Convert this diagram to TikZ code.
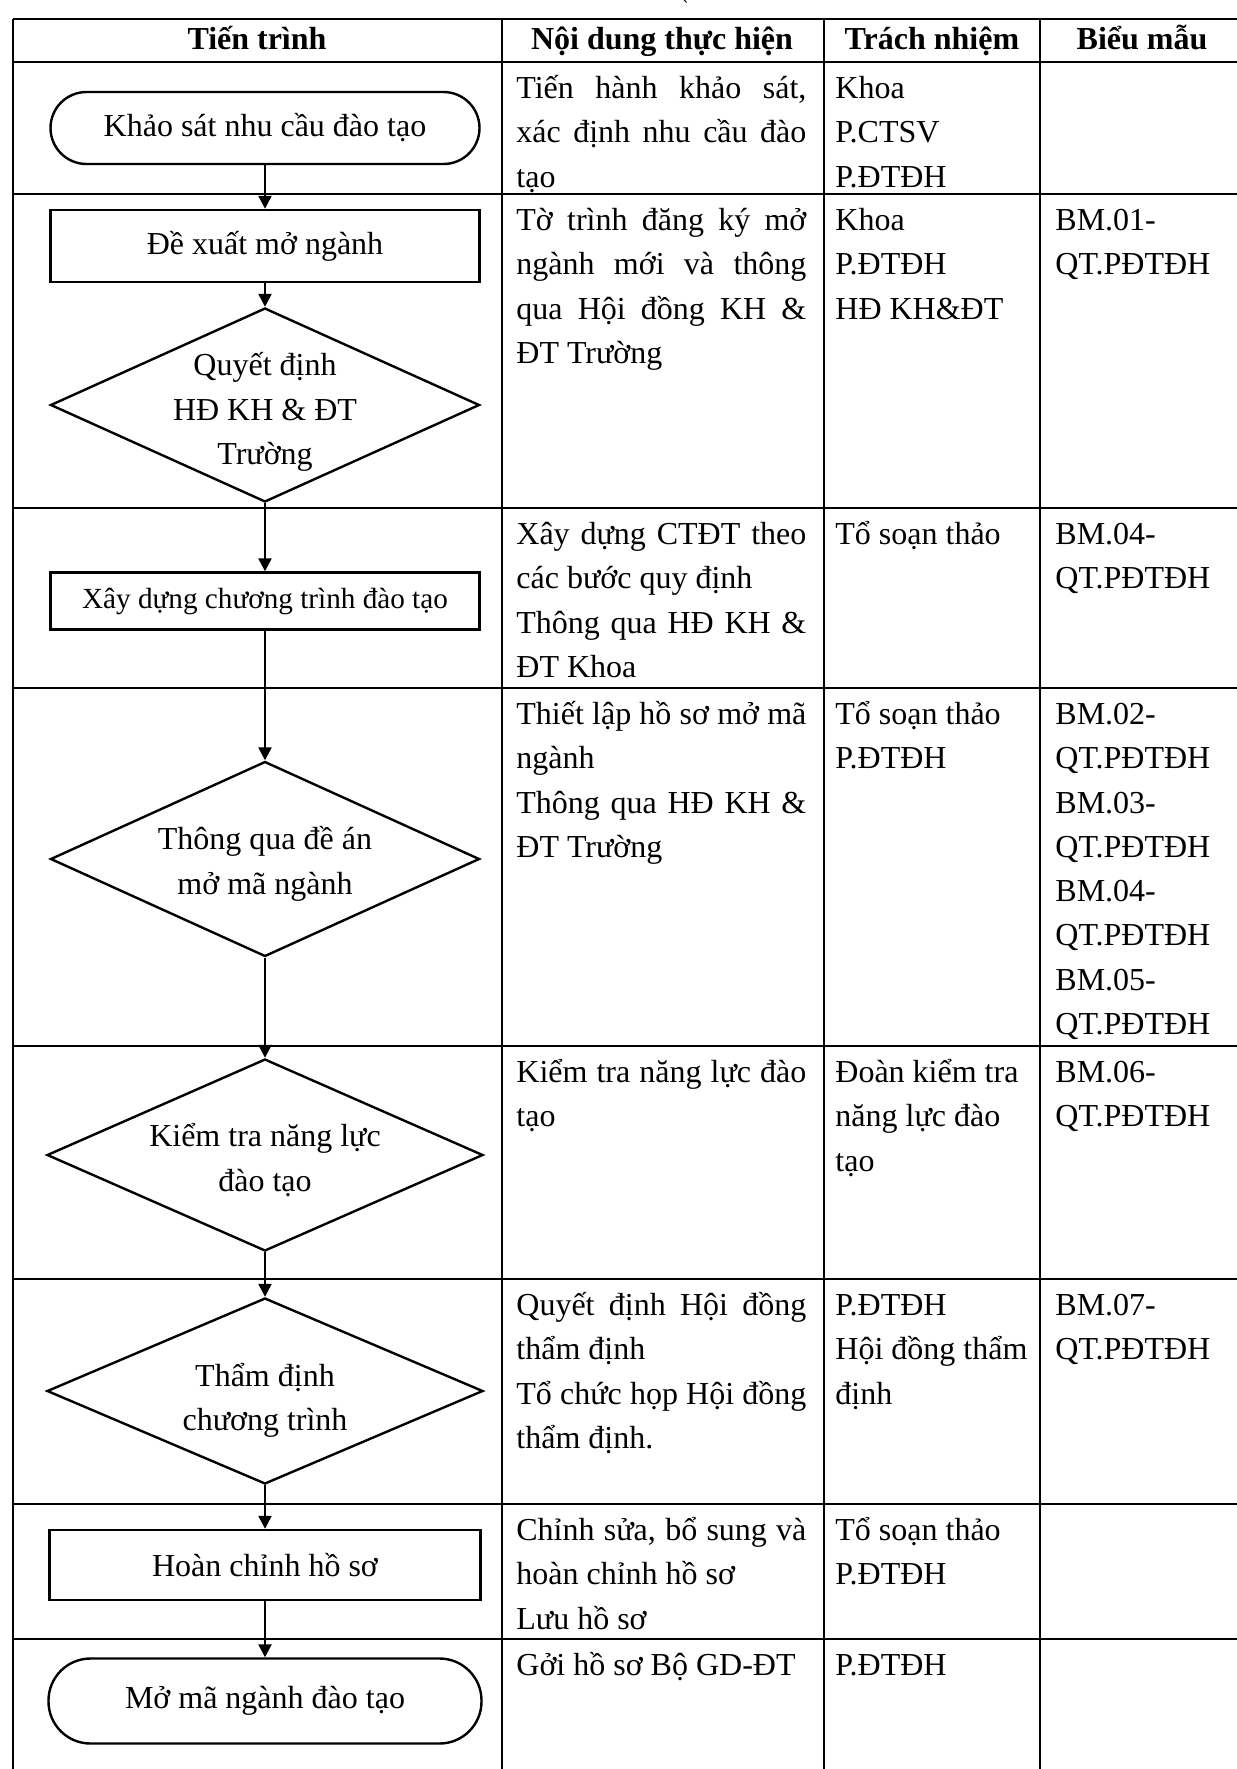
\documentclass[tikz,border=0pt]{standalone}
\usepackage{fontspec}
\setmainfont{Liberation Serif}
\newfontfamily\gravefont{DejaVu Serif}
\usetikzlibrary{shapes.geometric,arrows.meta}
\newcommand\nsk{\spaceskip=0pt\xspaceskip=0pt\relax}
\newcommand\fs{\nsk\rule{0pt}{15pt}}
\newcommand\jl[1]{\makebox[145pt][s]{#1}}
\begin{document}
\begin{tikzpicture}[x=0.5pt,y=-0.5pt,
  grid/.style={line width=1pt},
  body/.style={font=\fontsize{16}{22.15}\selectfont},
  shp/.style={draw,line width=1.2pt,inner sep=0pt,body},
  term/.style={shp,rectangle,rounded corners=#1},
  box/.style={shp,rectangle},
  dia/.style={shp,diamond},
  dtext/.style={body,align=center,inner sep=0pt},
  arr/.style={line width=1.2pt,-{Triangle[length=6.5pt,width=6.5pt]}},
  head/.style={font=\bfseries\fontsize{16}{19}\selectfont,anchor=base,inner sep=0pt},
  c2/.style={body,anchor=north west,inner sep=0pt,text width=150pt,align=left},
  c3/.style={body,anchor=north west,inner sep=0pt,text width=100pt,align=left},
  c4/.style={body,anchor=north west,inner sep=0pt,text width=90pt,align=left}
]
\useasboundingbox (0,0) rectangle (1237,1769);
\fill[white] (0,0) rectangle (1237,1769);

% table lines
\foreach \yy in {19,62,194,508,688,1046,1279,1504,1639}
  \draw[grid] (13,\yy) -- (1237,\yy);
\foreach \xx in {13,502,824,1040}
  \draw[grid] (\xx,19) -- (\xx,1769);

% stray mark at top
\node[inner sep=0pt,font=\gravefont\fontsize{10}{10}\selectfont] (mark) at (686,8) {ˋ};

% header
\node[head] (h1) at (257,49) {Tiến trình};
\node[head] (h2) at (662,49) {Nội dung thực hiện};
\node[head] (h3) at (932,49) {Trách nhiệm};
\node[head] (h4) at (1142,49) {Biểu mẫu};

% flowchart
\node[term=18pt,minimum width=214.5pt,minimum height=36pt] (t1) at (265,128) {Khảo sát nhu cầu đào tạo};
\node[box,minimum width=214.5pt,minimum height=36pt] (r2) at (265,246) {Đề xuất mở ngành};
\node[dia,minimum width=214.5pt,minimum height=97pt] (d3) at (265,405) {};
\node[dtext] (d3t) at (265,412) {\nsk Quyết định\\HĐ KH \& ĐT\\Trường};
\node[box,minimum width=214.5pt,minimum height=28.5pt,font=\fontsize{14.6}{18}\selectfont] (r4) at (265,601) {Xây dựng chương trình đào tạo};
\node[dia,minimum width=214.5pt,minimum height=97.5pt] (d5) at (265,859) {};
\node[dtext] (d5t) at (265,864) {\nsk Thông qua đề án\\mở mã ngành};
\node[dia,minimum width=218pt,minimum height=96pt] (d6) at (265,1155) {};
\node[dtext] (d6t) at (265,1160) {\nsk Kiểm tra năng lực\\đào tạo};
\node[dia,minimum width=218pt,minimum height=93pt] (d7) at (265,1391) {};
\node[dtext] (d7t) at (265,1400) {\nsk Thẩm định\\chương trình};
\node[box,minimum width=215.5pt,minimum height=35pt] (r8) at (265,1565) {Hoàn chỉnh hồ sơ};
\node[term=21pt,minimum width=216.5pt,minimum height=42.5pt] (t9) at (265,1701) {Mở mã ngành đào tạo};

\draw[arr] (t1.south) -- (r2.north);
\draw[arr] (r2.south) -- (d3.north);
\draw[arr] (d3.south) -- (r4.north);
\draw[arr] (r4.south) -- (d5.north);
\draw[arr] (d5.south) -- (d6.north);
\draw[arr] (d6.south) -- (d7.north);
\draw[arr] (d7.south) -- (r8.north);
\draw[arr] (r8.south) -- (t9.north);

% column 2
\node[c2] (n1) at (516,68) {\fs\jl{Tiến hành khảo sát,}\\\jl{xác định nhu cầu đào}\\tạo};
\node[c2] (n2) at (516,200) {\fs\jl{Tờ trình đăng ký mở}\\\jl{ngành mới và thông}\\\jl{qua Hội đồng KH \&}\\ĐT Trường};
\node[c2] (n3) at (516,514) {\fs\jl{Xây dựng CTĐT theo}\\các bước quy định\\\jl{Thông qua HĐ KH \&}\\ĐT Khoa};
\node[c2] (n4) at (516,694) {\fs\jl{Thiết lập hồ sơ mở mã}\\ngành\\\jl{Thông qua HĐ KH \&}\\ĐT Trường};
\node[c2] (n5) at (516,1052) {\fs\jl{Kiểm tra năng lực đào}\\tạo};
\node[c2] (n6) at (516,1285) {\fs\jl{Quyết định Hội đồng}\\thẩm định\\\jl{Tổ chức họp Hội đồng}\\thẩm định.};
\node[c2] (n7) at (516,1510) {\fs\jl{Chỉnh sửa, bổ sung và}\\hoàn chỉnh hồ sơ\\Lưu hồ sơ};
\node[c2] (n8) at (516,1645) {\fs Gởi hồ sơ Bộ GD-ĐT};

% column 3
\node[c3] (p1) at (835,68) {\fs Khoa\\P.CTSV\\P.ĐTĐH};
\node[c3] (p2) at (835,200) {\fs Khoa\\P.ĐTĐH\\HĐ KH\&ĐT};
\node[c3] (p3) at (835,514) {\fs Tổ soạn thảo};
\node[c3] (p4) at (835,694) {\fs Tổ soạn thảo\\P.ĐTĐH};
\node[c3] (p5) at (835,1052) {\fs Đoàn kiểm tra\\năng lực đào\\tạo};
\node[c3] (p6) at (835,1285) {\fs P.ĐTĐH\\Hội đồng thẩm\\định};
\node[c3] (p7) at (835,1510) {\fs Tổ soạn thảo\\P.ĐTĐH};
\node[c3] (p8) at (835,1645) {\fs P.ĐTĐH};

% column 4
\node[c4] (f2) at (1055,200) {\fs BM.01-\\QT.PĐTĐH};
\node[c4] (f3) at (1055,514) {\fs BM.04-\\QT.PĐTĐH};
\node[c4] (f4) at (1055,694) {\fs BM.02-\\QT.PĐTĐH\\BM.03-\\QT.PĐTĐH\\BM.04-\\QT.PĐTĐH\\BM.05-\\QT.PĐTĐH};
\node[c4] (f5) at (1055,1052) {\fs BM.06-\\QT.PĐTĐH};
\node[c4] (f6) at (1055,1285) {\fs BM.07-\\QT.PĐTĐH};
\end{tikzpicture}
\end{document}
